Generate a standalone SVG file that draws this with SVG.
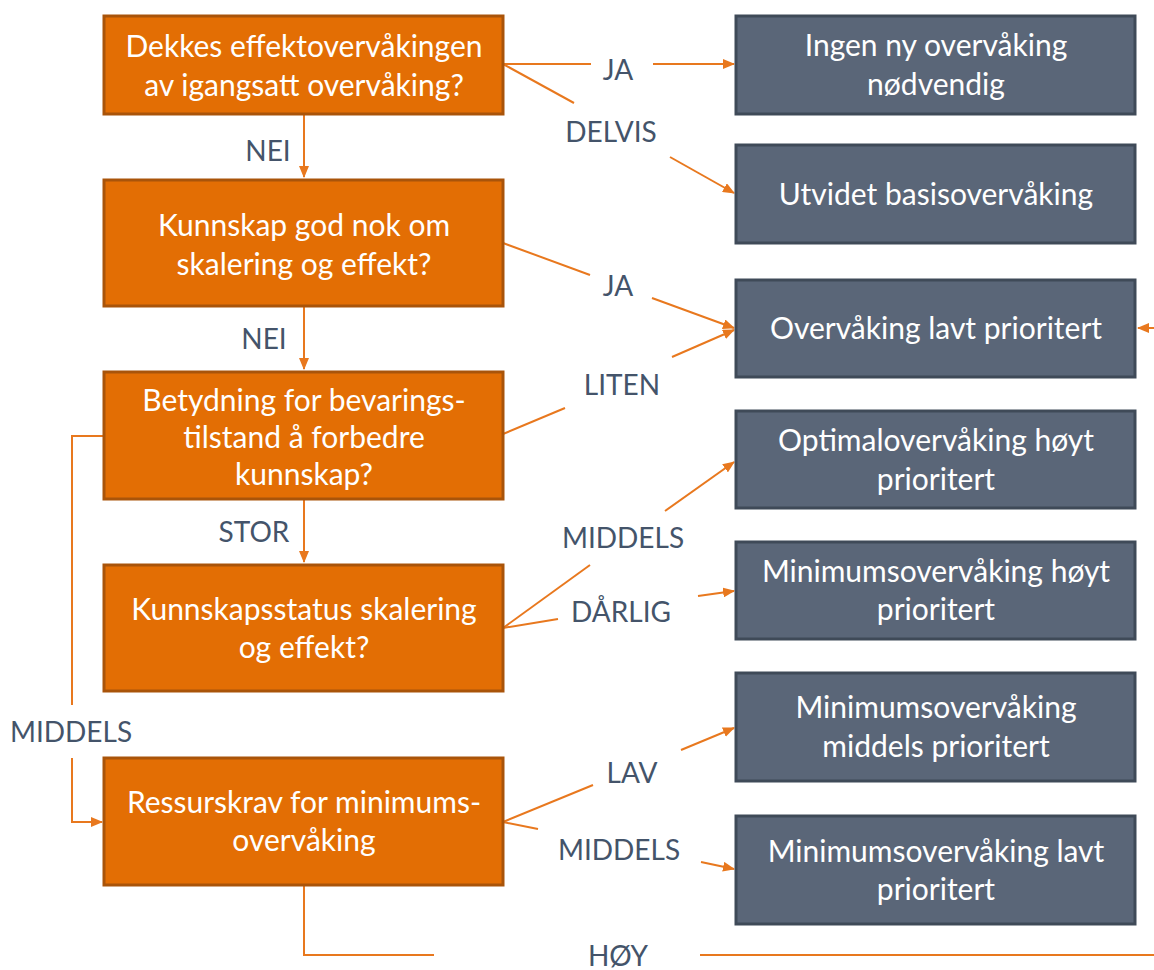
<svg xmlns="http://www.w3.org/2000/svg" width="1154" height="970" viewBox="0 0 1154 970">
<style>
.q{fill:#E36E04;stroke:#A9540A;stroke-width:3}
.r{fill:#5A6678;stroke:#3F4A58;stroke-width:3}
.t{font-family:Lato,"Liberation Sans",sans-serif;font-size:30px;fill:#FFFFFF;text-anchor:middle}
.l{font-family:Lato,"Liberation Sans",sans-serif;font-size:28px;fill:#44546A;text-anchor:middle}
.c{fill:none;stroke:#E8781E;stroke-width:2}
</style>
<defs>
<marker id="a" viewBox="0 0 12 10" refX="11" refY="5" markerWidth="12" markerHeight="10" markerUnits="userSpaceOnUse" orient="auto">
<path d="M0,0 L12,5 L0,10 Z" fill="#E8781E"/>
</marker>
</defs>
<rect width="1154" height="970" fill="#FFFFFF"/>
<g id="connectors">
<path class="c" d="M304,115 V177" marker-end="url(#a)"/>
<path class="c" d="M304,307 V369" marker-end="url(#a)"/>
<path class="c" d="M304,500 V562" marker-end="url(#a)"/>
<path class="c" d="M503,64 H591"/>
<path class="c" d="M653,64 H734" marker-end="url(#a)"/>
<path class="c" d="M503,64 L574,103"/>
<path class="c" d="M670,157 L734,193" marker-end="url(#a)"/>
<path class="c" d="M503,243 L590,275"/>
<path class="c" d="M652,298 L734,328" marker-end="url(#a)"/>
<path class="c" d="M503,434 L565,408"/>
<path class="c" d="M672,357 L734,330" marker-end="url(#a)"/>
<path class="c" d="M503,628 L590,565"/>
<path class="c" d="M665,511 L734,462" marker-end="url(#a)"/>
<path class="c" d="M503,628 L558,619"/>
<path class="c" d="M698,596 L734,591" marker-end="url(#a)"/>
<path class="c" d="M503,822 L593,785"/>
<path class="c" d="M681,750 L734,728" marker-end="url(#a)"/>
<path class="c" d="M503,822 L538,829"/>
<path class="c" d="M701,862 L734,869" marker-end="url(#a)"/>
<path class="c" d="M104,436 H72 V705"/>
<path class="c" d="M72,758 V822 H102" marker-end="url(#a)"/>
<path class="c" d="M304,886 V955 H434"/>
<path class="c" d="M700,955 H1156"/>
<path class="c" d="M1156,328 H1138" marker-end="url(#a)"/>
</g>
<g id="q1"><rect class="q" x="104" y="16" width="399" height="98"/><text class="t" x="304" y="57">Dekkes effektovervåkingen</text><text class="t" x="304" y="96">av igangsatt overvåking?</text></g>
<g id="q2"><rect class="q" x="104" y="180" width="399" height="126"/><text class="t" x="304" y="236">Kunnskap god nok om</text><text class="t" x="304" y="275">skalering og effekt?</text></g>
<g id="q3"><rect class="q" x="104" y="372" width="399" height="127"/><text class="t" x="304" y="411">Betydning for bevarings-</text><text class="t" x="304" y="448">tilstand å forbedre</text><text class="t" x="304" y="485">kunnskap?</text></g>
<g id="q4"><rect class="q" x="104" y="565" width="399" height="126"/><text class="t" x="304" y="620">Kunnskapsstatus skalering</text><text class="t" x="304" y="658">og effekt?</text></g>
<g id="q5"><rect class="q" x="104" y="758" width="399" height="127"/><text class="t" x="304" y="813">Ressurskrav for minimums-</text><text class="t" x="304" y="851">overvåking</text></g>
<g id="r1"><rect class="r" x="736" y="16" width="399" height="98"/><text class="t" x="936" y="56">Ingen ny overvåking</text><text class="t" x="936" y="95">nødvendig</text></g>
<g id="r2"><rect class="r" x="736" y="145" width="399" height="98"/><text class="t" x="936" y="205">Utvidet basisovervåking</text></g>
<g id="r3"><rect class="r" x="736" y="280" width="399" height="97"/><text class="t" x="936" y="339">Overvåking lavt prioritert</text></g>
<g id="r4"><rect class="r" x="736" y="411" width="399" height="97"/><text class="t" x="936" y="451">Optimalovervåking høyt</text><text class="t" x="936" y="490">prioritert</text></g>
<g id="r5"><rect class="r" x="736" y="542" width="399" height="97"/><text class="t" x="936" y="582">Minimumsovervåking høyt</text><text class="t" x="936" y="620">prioritert</text></g>
<g id="r6"><rect class="r" x="736" y="673" width="399" height="108"/><text class="t" x="936" y="718">Minimumsovervåking</text><text class="t" x="936" y="757">middels prioritert</text></g>
<g id="r7"><rect class="r" x="736" y="816" width="399" height="108"/><text class="t" x="936" y="862">Minimumsovervåking lavt</text><text class="t" x="936" y="900">prioritert</text></g>
<g id="labels">
<text class="l" x="618" y="80">JA</text>
<text class="l" x="611" y="142">DELVIS</text>
<text class="l" x="268" y="161">NEI</text>
<text class="l" x="618" y="296">JA</text>
<text class="l" x="264" y="349">NEI</text>
<text class="l" x="622" y="395">LITEN</text>
<text class="l" x="254" y="542">STOR</text>
<text class="l" x="623" y="548">MIDDELS</text>
<text class="l" x="621" y="622">DÅRLIG</text>
<text class="l" x="71" y="742">MIDDELS</text>
<text class="l" x="632" y="783">LAV</text>
<text class="l" x="619" y="860">MIDDELS</text>
<text class="l" x="618" y="966">HØY</text>
</g>
</svg>
